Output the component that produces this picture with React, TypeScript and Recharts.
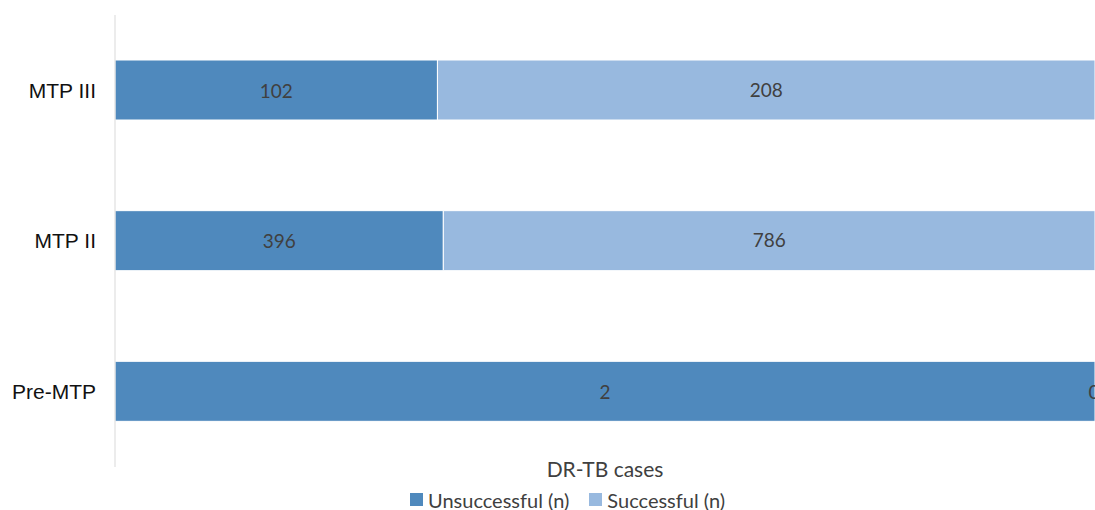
import { BarChart, Bar, XAxis, YAxis, LabelList } from "recharts";

const periods = ["MTP III", "MTP II", "Pre-MTP"];
const unsuccessful = [102, 396, 2];
const successful = [208, 786, 0];

const DARK = "#4f89bd";
const LIGHT = "#98b9df";
const LABEL_FONT = "Lato, 'Open Sans', sans-serif";

const data = periods.map((p, i) => ({
  period: p,
  unsuccessful: unsuccessful[i],
  successful: successful[i],
}));

// labels centred in the dark segment; a zero "successful" value gets its label at the bar end
function UnsuccessfulLabel(props: any) {
  const { x, y, width, height, value, index } = props;
  const cy = y + height / 2;
  const ok = successful[index];
  return (
    <g fill="#404040" fontSize={19} fontFamily={LABEL_FONT}>
      <text x={x + width / 2} y={cy} textAnchor="middle" dominantBaseline="central">{value}</text>
      {ok === 0 && (
        <text x={x + width - 1} y={cy} textAnchor="middle" dominantBaseline="central">{ok}</text>
      )}
    </g>
  );
}

function LegendOverlay() {
  const item = (color: string, text: string, gap: number) => (
    <span style={{ display: "inline-flex", alignItems: "center", marginRight: gap }}>
      <span style={{ width: 13, height: 13, background: color, marginRight: 5, display: "inline-block" }} />
      {text}
    </span>
  );
  return (
    <>
      <div
        style={{
          position: "absolute",
          left: 115,
          top: 455,
          width: 980,
          textAlign: "center",
          fontFamily: LABEL_FONT,
          fontSize: 21,
          lineHeight: "28px",
          color: "#404040",
        }}
      >
        DR-TB cases
      </div>
      <div
        style={{
          position: "absolute",
          left: 410,
          top: 485,
          whiteSpace: "nowrap",
          fontFamily: LABEL_FONT,
          fontSize: 20,
          lineHeight: "26px",
          color: "#404040",
        }}
      >
        {item(DARK, "Unsuccessful (n)", 20)}
        {item(LIGHT, "Successful (n)", 0)}
      </div>
    </>
  );
}

export default function App() {
  return (
    <div style={{ position: "absolute", left: 0, top: 0, width: 1095, height: 510, background: "#fff", overflow: "hidden" }}>
      <BarChart
        width={1095}
        height={510}
        data={data}
        layout="vertical"
        stackOffset="expand"
        margin={{ top: 15, right: 0, bottom: 43, left: 0 }}
      >
        <XAxis type="number" hide domain={[0, 1]} />
        <YAxis
          type="category"
          dataKey="period"
          width={115}
          axisLine={{ stroke: "#d9d9d9" }}
          tickLine={false}
          tickMargin={13}
          tick={{ fill: "#111", fontSize: 21, fontFamily: "'Liberation Sans', Arial, sans-serif" }}
        />
        <Bar dataKey="unsuccessful" stackId="a" fill={DARK} stroke="#fff" strokeWidth={1} barSize={60} isAnimationActive={false}>
          <LabelList dataKey="unsuccessful" content={UnsuccessfulLabel} />
        </Bar>
        <Bar dataKey="successful" stackId="a" fill={LIGHT} stroke="#fff" strokeWidth={1} barSize={60} isAnimationActive={false}>
          <LabelList dataKey="successful" position="center" fill="#404040" fontSize={19} fontFamily={LABEL_FONT} />
        </Bar>
      </BarChart>
      <LegendOverlay />
    </div>
  );
}
